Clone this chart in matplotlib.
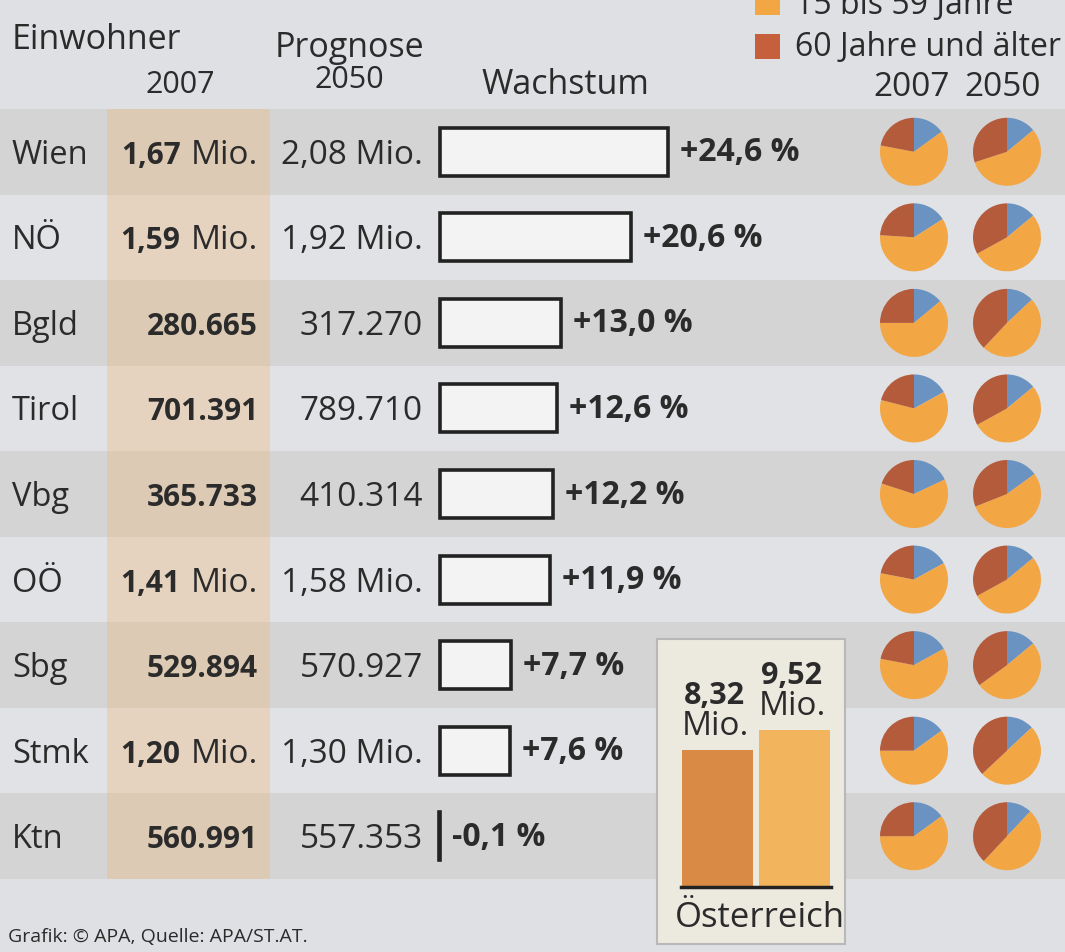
import matplotlib
matplotlib.use('Agg')
import matplotlib.pyplot as plt
from matplotlib.patches import Rectangle

# ---------------- data ----------------
regions = ['Wien', 'NÖ', 'Bgld', 'Tirol', 'Vbg', 'OÖ', 'Sbg', 'Stmk', 'Ktn']
pop2007_num = ['1,67', '1,59', '280.665', '701.391', '365.733', '1,41', '529.894', '1,20', '560.991']
pop2007_unit = ['Mio.', 'Mio.', '', '', '', 'Mio.', '', 'Mio.', '']
pop2050_labels = ['2,08 Mio.', '1,92 Mio.', '317.270', '789.710', '410.314',
                  '1,58 Mio.', '570.927', '1,30 Mio.', '557.353']
growth = [24.6, 20.6, 13.0, 12.6, 12.2, 11.9, 7.7, 7.6, -0.1]
growth_labels = ['+24,6 %', '+20,6 %', '+13,0 %', '+12,6 %', '+12,2 %',
                 '+11,9 %', '+7,7 %', '+7,6 %', '-0,1 %']
# age shares: [unter 15, 15 bis 59, 60 und älter]
shares2007 = [[15, 63, 22], [16, 60, 24], [14, 61, 25], [17, 62, 21], [18, 62, 20],
              [17, 61, 22], [17, 61, 22], [15, 60, 25], [15, 60, 25]]
shares2050 = [[14, 56, 30], [14, 53, 33], [13, 49, 38], [14, 53, 33], [15, 54, 31],
              [14, 53, 33], [14, 51, 35], [13, 50, 37], [12, 50, 38]]
austria_years = ['2007', '2050']
austria_pop = [8.32, 9.52]
austria_labels = ['8,32', '9,52']
legend_labels = ['15 bis 59 Jahre', '60 Jahre und älter']

# ---------------- style ----------------
W, H, DPI = 1065, 953, 100
plt.rcParams['font.family'] = ['Open Sans', 'DejaVu Sans']
TXT = '#2b2b2b'
FS_LAB = 23.5     # row labels
FS_REG = 24       # regular values
FS_BOLD = 21.5    # bold values
FS_GROW = 23      # growth labels
FS_HEAD = 24.5    # header words
FS_YEAR = 22      # table header years
C_BLUE, C_ORANGE, C_RED = '#6b93c2', '#f2a644', '#b45b3c'

fig = plt.figure(figsize=(W / DPI, H / DPI), dpi=DPI)
fig.patch.set_facecolor('#dfe0e3')


def fx(x):
    return x / W


def fy(y):
    return 1 - y / H


ax = fig.add_axes([0, 0, 1, 1])
ax.set_xlim(0, W)
ax.set_ylim(H, 0)
ax.axis('off')

TOP, BOT = 110, 880
n = len(regions)
RH = (BOT - TOP) / n
cys = [TOP + RH * (i + 0.5) for i in range(n)]

# row bands
for i in range(n):
    col = '#d4d4d5' if i % 2 == 0 else '#e1e2e5'
    ax.add_patch(Rectangle((0, TOP + RH * i), W, RH, facecolor=col, edgecolor='none', zorder=0))
# 2007 column highlight
ax.add_patch(Rectangle((107, TOP), 163, BOT - TOP, facecolor='#f0b878', alpha=0.35,
                       edgecolor='none', zorder=1))

# header
ax.text(12, 40, 'Einwohner', fontsize=FS_HEAD, color=TXT, ha='left', va='center')
ax.text(180, 85, '2007', fontsize=FS_YEAR, color=TXT, ha='center', va='center')
ax.text(349, 48, 'Prognose', fontsize=FS_HEAD, color=TXT, ha='center', va='center')
ax.text(349, 80, '2050', fontsize=FS_YEAR, color=TXT, ha='center', va='center')
ax.text(565, 85, 'Wachstum', fontsize=FS_HEAD, color=TXT, ha='center', va='center')
ax.text(912, 88, '2007', fontsize=24, color=TXT, ha='center', va='center')
ax.text(1003, 88, '2050', fontsize=24, color=TXT, ha='center', va='center')

# legend
ax.add_patch(Rectangle((755, -8), 25, 24, facecolor=C_ORANGE, edgecolor='none', zorder=2))
ax.text(795, 14, legend_labels[0], fontsize=23, color=TXT, ha='left', va='baseline')
ax.add_patch(Rectangle((755, 35), 25, 25, facecolor='#c6603c', edgecolor='none', zorder=2))
ax.text(795, 47, legend_labels[1], fontsize=23, color=TXT, ha='left', va='center')

fig.canvas.draw()
renderer = fig.canvas.get_renderer()

# table text
for i in range(n):
    yb = cys[i] + 11
    ax.text(12, yb, regions[i], fontsize=FS_LAB, color=TXT, ha='left', va='baseline')
    if pop2007_unit[i]:
        t = ax.text(258, yb, pop2007_unit[i], fontsize=FS_REG, color=TXT, ha='right', va='baseline')
        bb = t.get_window_extent(renderer)
        ax.text(bb.x0 - 10, yb, pop2007_num[i], fontsize=FS_BOLD, color=TXT, ha='right',
                va='baseline', fontweight='bold')
    else:
        ax.text(258, yb, pop2007_num[i], fontsize=FS_BOLD, color=TXT, ha='right',
                va='baseline', fontweight='bold')
    ax.text(423, yb, pop2050_labels[i], fontsize=FS_REG, color=TXT, ha='right', va='baseline')

# growth bars
gax = fig.add_axes([fx(440), fy(BOT), (800 - 440) / W, (BOT - TOP) / H])
gax.set_xlim(0, 360 / 9.27)
gax.set_ylim(n - 0.5, -0.5)
gax.axis('off')
gax.patch.set_alpha(0)
bars = gax.barh(range(n), growth, height=0.56, color='#f3f3f3', edgecolor='#222222',
                linewidth=2.6)
for b in bars:
    b.set_clip_on(False)
for i in range(n):
    gax.annotate(growth_labels[i], xy=(max(growth[i], 0), i), xytext=(12, 0),
                 textcoords='offset pixels', ha='left', va='center',
                 fontsize=FS_GROW, fontweight='bold', color=TXT)

# Österreich box
ax.add_patch(Rectangle((657, 640), 188, 305, facecolor='#ece9df', edgecolor='#b8b8b8',
                       linewidth=1.5, zorder=3))
ax.text(760, 918, 'Österreich', fontsize=25, color=TXT, ha='center', va='center', zorder=4)

aax = fig.add_axes([fx(679), fy(888), 154 / W, 238 / H])
aax.set_xlim(-0.5, 1.5)
aax.set_ylim(0, 9.52 * 238 / 157)
aax.axis('off')
aax.patch.set_alpha(0)
aax.bar(range(len(austria_pop)), austria_pop, width=0.92, color=['#d98b45', '#f2b45c'])
aax.plot([-0.47, 1.47], [0, 0], color='#222222', lw=2.5, clip_on=False)
for i, v in enumerate(austria_pop):
    aax.annotate('Mio.', xy=(i - 0.46, v), xytext=(0, 8), textcoords='offset pixels',
                 ha='left', va='bottom', fontsize=24, color=TXT)
    aax.annotate(austria_labels[i], xy=(i - 0.46, v), xytext=(2, 40), textcoords='offset pixels',
                 ha='left', va='bottom', fontsize=22, color=TXT, fontweight='bold')

# pies
R = 34
for i in range(n):
    for cx, sh in ((914, shares2007[i]), (1007, shares2050[i])):
        pax = fig.add_axes([fx(cx - R), fy(cys[i] + R), 2 * R / W, 2 * R / H])
        pax.pie(sh, colors=[C_BLUE, C_ORANGE, C_RED], startangle=90, counterclock=False,
                wedgeprops=dict(linewidth=0))
        pax.set_xlim(-1, 1)
        pax.set_ylim(-1, 1)
        pax.axis('off')

# footer
ax.text(8, 937, 'Grafik: © APA, Quelle: APA/ST.AT.', fontsize=14, color=TXT,
        ha='left', va='center')

fig.savefig('out.png', dpi=DPI, facecolor=fig.get_facecolor())
